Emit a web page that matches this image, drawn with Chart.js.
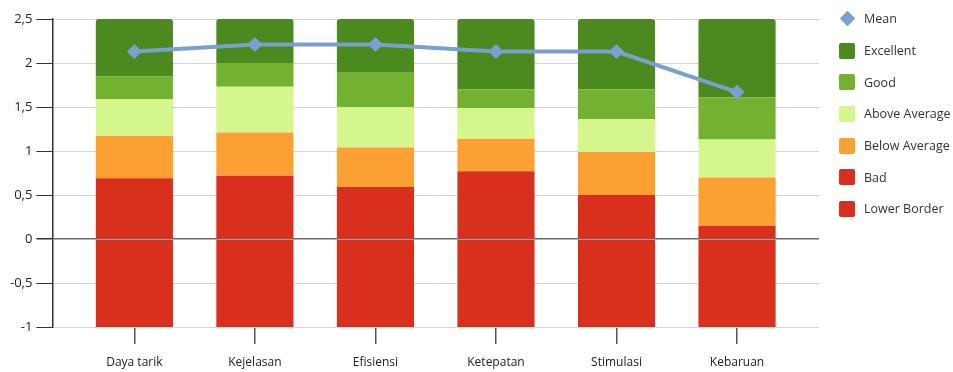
<!DOCTYPE html>
<html>
<head>
<meta charset="utf-8">
<script src="https://cdn.jsdelivr.net/npm/chart.js@4/dist/chart.umd.min.js"></script>
<style>
  body { margin: 0; background: #fff; }
  #wrap { position: relative; width: 953px; height: 372px; }
  #legend { position: absolute; left: 839px; top: 3px; font-family: 'Open Sans', sans-serif; font-size: 12.5px; color: #333; }
  .item { height: 31.7px; display: flex; align-items: center; white-space: nowrap; }
  .icon { width: 16px; height: 16px; border-radius: 2px; margin-right: 9px; }
  .diamond { width: 16px; height: 16px; margin-right: 9px; display: flex; align-items: center; justify-content: center; }
  .diamond span { width: 11px; height: 11px; transform: rotate(45deg); display: block; }
</style>
</head>
<body>
<div id="wrap"><canvas id="chart"></canvas><div id="legend"></div></div>
<script>
const categories = ["Daya tarik", "Kejelasan", "Efisiensi", "Ketepatan", "Stimulasi", "Kebaruan"];

// segment heights of each stacked bar
const lowerBorder = [-1, -1, -1, -1, -1, -1];
const bad = [0.69, 0.72, 0.59, 0.77, 0.50, 0.15];
const belowAverage = [0.48, 0.49, 0.45, 0.37, 0.49, 0.55];
const aboveAverage = [0.42, 0.52, 0.46, 0.35, 0.37, 0.43];
const good = [0.26, 0.27, 0.39, 0.21, 0.34, 0.48];
const excellent = [0.65, 0.50, 0.61, 0.80, 0.80, 0.89];
const mean = [2.13, 2.21, 2.21, 2.13, 2.13, 1.67];

const yTicks = [-1, -0.5, 0, 0.5, 1, 1.5, 2, 2.5];

const FONT = "'Open Sans', sans-serif";

function pts(arr) {
  return arr.map((v, i) => ({ x: i, y: v }));
}

function barSet(label, values, color, extra) {
  return Object.assign({
    type: 'bar',
    label: label,
    data: pts(values),
    backgroundColor: color,
    borderWidth: 0,
    barPercentage: 0.64,
    categoryPercentage: 1,
    stack: 'scores',
    order: 1
  }, extra || {});
}

const ctx = document.getElementById('chart').getContext('2d');
const chart = new Chart(ctx, {
  data: {
    datasets: [
      barSet('Lower Border', lowerBorder, '#d9301d'),
      barSet('Bad', bad, '#d9301d'),
      barSet('Below Average', belowAverage, '#fca033'),
      barSet('Above Average', aboveAverage, '#d4f68c'),
      barSet('Good', good, '#72b230'),
      barSet('Excellent', excellent, '#4b8a1f', {
        borderRadius: { topLeft: 3, topRight: 3, bottomLeft: 0, bottomRight: 0 },
        borderSkipped: false
      }),
      {
        type: 'line',
        label: 'Mean',
        data: pts(mean),
        borderColor: '#7aa0d2',
        backgroundColor: '#7aa0d2',
        borderWidth: 4,
        pointStyle: 'rectRot',
        pointRadius: 7,
        pointHoverRadius: 7,
        pointBorderWidth: 1,
        tension: 0,
        stack: 'mean',
        order: -1
      }
    ]
  },
  options: {
    responsive: true,
    maintainAspectRatio: false,
    animation: false,
    layout: { padding: { left: 6, top: 19, bottom: -8.4, right: 134 } },
    plugins: {
      tooltip: { enabled: false },
      legend: { display: false }
    },
    scales: {
      x: {
        type: 'linear',
        min: -0.68,
        max: 5.68,
        offset: false,
        border: { display: false },
        grid: {
          offset: false,
          drawOnChartArea: false,
          drawTicks: true,
          tickLength: 17,
          tickColor: '#555',
          lineWidth: 1.5
        },
        ticks: {
          stepSize: 1,
          includeBounds: false,
          padding: 11,
          color: '#222',
          font: { family: FONT, size: 12 },
          maxRotation: 0,
          callback: (v) => categories[v]
        }
      },
      y: {
        stacked: true,
        min: yTicks[0],
        max: yTicks[yTicks.length - 1],
        border: { display: true, color: '#333', width: 1.5 },
        grid: {
          color: (c) => c.tick && c.tick.value === 0 ? '#6b6b6b' : '#d6d6d6',
          lineWidth: (c) => c.tick && c.tick.value === 0 ? 1.5 : 1,
          tickLength: 16,
          tickColor: '#333'
        },
        ticks: {
          stepSize: 0.5,
          padding: 4,
          color: '#222',
          font: { family: FONT, size: 13 },
          callback: (v) => String(v).replace('.', ',')
        }
      }
    }
  }
});

// legend: Mean first, then bar series from top of stack to bottom
const legend = document.getElementById('legend');
chart.data.datasets.slice().reverse().forEach(ds => {
  const item = document.createElement('div');
  item.className = 'item';
  if (ds.type === 'line') {
    item.innerHTML = `<div class="diamond"><span style="background:${ds.backgroundColor}"></span></div>${ds.label}`;
  } else {
    item.innerHTML = `<div class="icon" style="background:${ds.backgroundColor}"></div>${ds.label}`;
  }
  legend.appendChild(item);
});
</script>
</body>
</html>
